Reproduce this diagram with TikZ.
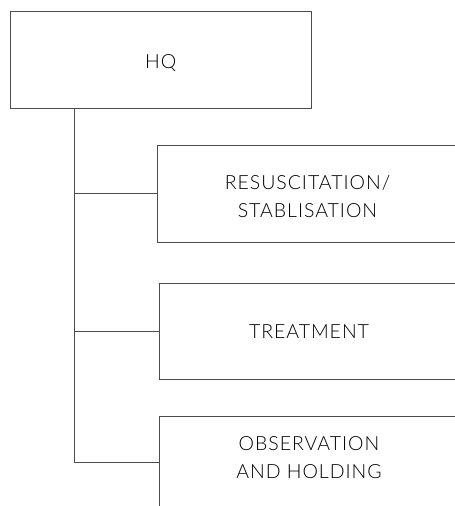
\documentclass[tikz,border=0pt]{standalone}
\usepackage{fontspec}
\setmainfont{Lato Light}[LetterSpace=5]
\begin{document}
\begin{tikzpicture}[x=1pt,y=-1pt,
  line/.style={draw=black!70, line width=0.9pt},
  unit/.style={line, rectangle, minimum width=300pt, inner sep=0pt},
  caption/.style={font=\fontsize{19.5}{28}\selectfont, align=center, inner sep=0pt}]
  \useasboundingbox (0,0) rectangle (455,506);
  \clip (0,0) rectangle (455,506);
  % headquarters
  \node[unit, minimum width=300.5pt, minimum height=97pt] (hq) at (160.75,59.5) {};
  \node[caption] (t0) at (160.75,63) {HQ};
  % sections hanging off the trunk
  \node[unit, minimum height=97pt] (s1) at (307.5,193.5) {};
  \node[caption] (t1) at (307.5,196.5) {RESUSCITATION/\\STABLISATION};
  \node[unit, minimum height=96pt] (s2) at (309,331.5) {};
  \node[caption] (t2) at (309,331.5) {TREATMENT};
  \node[unit, minimum height=92pt] (s3) at (309,462) {};
  \node[caption] (t3) at (309,458) {OBSERVATION\\AND HOLDING};
  % trunk and branches
  \coordinate (top) at ([xshift=64.5pt]hq.south west);
  \draw[line] (top) -- (top |- s3.west) -- (s3.west);
  \draw[line] (top |- s1.west) -- (s1.west);
  \draw[line] (top |- s2.west) -- (s2.west);
\end{tikzpicture}
\end{document}
